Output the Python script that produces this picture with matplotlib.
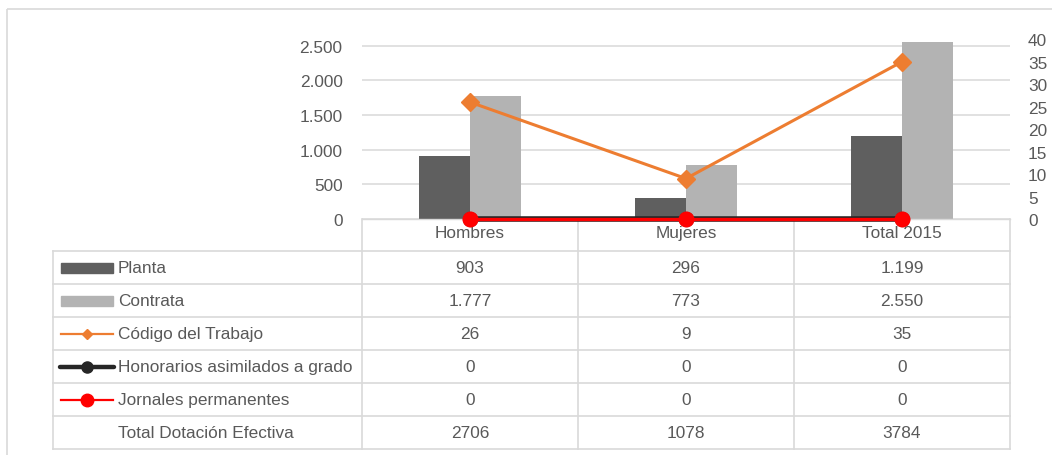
import numpy as np
import matplotlib
matplotlib.use("Agg")
import matplotlib.pyplot as plt
from matplotlib.patches import Rectangle
from matplotlib.lines import Line2D

plt.rcParams['font.family'] = ['Liberation Sans Narrow', 'Liberation Sans', 'DejaVu Sans']

# data
categories = ["Hombres", "Mujeres", "Total 2015"]
planta = [903, 296, 1199]
contrata = [1777, 773, 2550]
codigo = [26, 9, 35]
honorarios = [0, 0, 0]
jornales = [0, 0, 0]
total_dotacion = [2706, 1078, 3784]

left_ticks = [0, 500, 1000, 1500, 2000, 2500]
right_ticks = [0, 5, 10, 15, 20, 25, 30, 35, 40]

TXT = "#595959"
GRID = "#d9d9d9"
C_PLANTA = "#5f5f5f"
C_CONTRATA = "#b3b3b3"
C_ORANGE = "#ed7d31"
C_BLACK = "#262626"
C_RED = "#ff0000"
FS = 12.4

W, H = 1052, 456
fig = plt.figure(figsize=(W / 100, H / 100), dpi=100)

# plot area in pixels
PL, PR, PB, PT = 362, 1010, 220, 20


def fig_rect(l, r, b, t):
    return [l / W, 1 - b / H, (r - l) / W, (b - t) / H]


# overlay axes in pixel coords for frame and table
tab = fig.add_axes([0, 0, 1, 1], zorder=0)
tab.set_xlim(0, W)
tab.set_ylim(H, 0)
tab.axis("off")

# outer frame
tab.plot([7, 7], [10, H + 2], color=GRID, lw=1.2, solid_capstyle="butt")
tab.plot([7, W + 2], [10, 10], color=GRID, lw=1.2, solid_capstyle="butt")

ax = fig.add_axes(fig_rect(PL, PR, PB, PT), zorder=2)
ax.patch.set_alpha(0)
ax2 = ax.twinx()

x = np.arange(len(categories))
bw = 0.238
ax.bar(x - bw / 2, planta, bw, color=C_PLANTA, zorder=2)
ax.bar(x + bw / 2, contrata, bw, color=C_CONTRATA, zorder=2)

ax.set_xlim(-0.5, len(categories) - 0.5)
ax.set_ylim(0, 2500 * (PB - PT) / 173.3)
ax.set_yticks(left_ticks)
ax.set_yticklabels([f"{v:,}".replace(",", ".") for v in left_ticks])
ax.yaxis.grid(True, color=GRID, lw=1.1)
ax.set_axisbelow(True)
ax.set_xticks(x)
ax.set_xticklabels(categories)
ax.tick_params(axis="x", length=0, pad=4, labelsize=FS, labelcolor=TXT)
ax.tick_params(axis="y", length=0, pad=14, labelsize=FS, labelcolor=TXT)
for s in ["top", "right", "left"]:
    ax.spines[s].set_visible(False)
ax.spines["bottom"].set_color(GRID)
ax.spines["bottom"].set_linewidth(1.0)

ax2.plot(x, codigo, color=C_ORANGE, lw=2.2, marker="D", ms=9.5, zorder=3)
ax2.plot(x, honorarios, color=C_BLACK, lw=4, marker="o", ms=10, clip_on=False, zorder=4)
ax2.plot(x, jornales, color=C_RED, lw=2.4, marker="o", ms=10.5, clip_on=False, zorder=5)
ax2.set_ylim(0, (PB - PT) / 4.494)
ax2.set_yticks(right_ticks)
ax2.tick_params(axis="y", length=0, pad=13, labelsize=FS, labelcolor=TXT)
for s in ax2.spines.values():
    s.set_visible(False)

# table
col_w = (PR - PL) / len(categories)
col_edges = [PL + i * col_w for i in range(len(categories) + 1)]
col_centers = [PL + (i + 0.5) * col_w for i in range(len(categories))]
TL = 53
row_edges = [252, 285, 318.3, 351.3, 384.3, 417.3, 450.5]

for xe in col_edges:
    tab.plot([xe, xe], [PB, row_edges[-1]], color=GRID, lw=1.2)
tab.plot([TL, TL], [row_edges[0], row_edges[-1]], color=GRID, lw=1.2)
for ye in row_edges:
    tab.plot([TL, PR], [ye, ye], color=GRID, lw=1.2)

rows = [
    ("Planta", [f"{v:,}".replace(",", ".") for v in planta]),
    ("Contrata", [f"{v:,}".replace(",", ".") for v in contrata]),
    ("Código del Trabajo", [str(v) for v in codigo]),
    ("Honorarios asimilados a grado", [str(v) for v in honorarios]),
    ("Jornales permanentes", [str(v) for v in jornales]),
    ("Total Dotación Efectiva", [str(v) for v in total_dotacion]),
]
for i, (name, vals) in enumerate(rows):
    yc = (row_edges[i] + row_edges[i + 1]) / 2
    tab.text(118, yc, name, ha="left", va="center", fontsize=FS, color=TXT)
    for xc, v in zip(col_centers, vals):
        tab.text(xc, yc, v, ha="center", va="center", fontsize=FS, color=TXT)

# legend keys
def yc_of(i):
    return (row_edges[i] + row_edges[i + 1]) / 2

tab.add_patch(Rectangle((61, yc_of(0) - 5), 52, 10, color=C_PLANTA))
tab.add_patch(Rectangle((61, yc_of(1) - 5), 52, 10, color=C_CONTRATA))
tab.add_line(Line2D([61, 113], [yc_of(2)] * 2, color=C_ORANGE, lw=1.6))
tab.plot([87], [yc_of(2)], marker="D", ms=5, color=C_ORANGE)
tab.add_line(Line2D([60, 114], [yc_of(3)] * 2, color=C_BLACK, lw=3.2, solid_capstyle="round"))
tab.plot([87], [yc_of(3)], marker="o", ms=8, color=C_BLACK)
tab.add_line(Line2D([61, 113], [yc_of(4)] * 2, color=C_RED, lw=1.6))
tab.plot([87], [yc_of(4)], marker="o", ms=9, color=C_RED)

fig.savefig("out.png", dpi=100)
